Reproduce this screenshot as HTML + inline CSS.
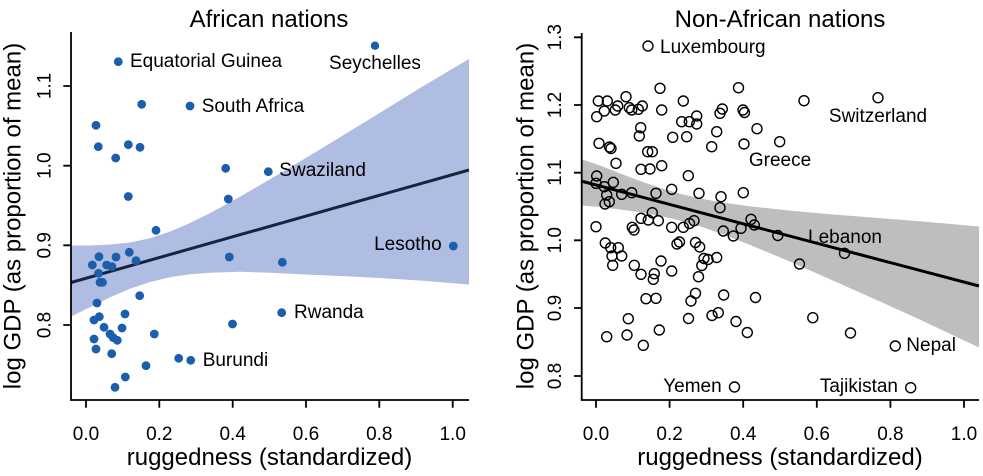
<!DOCTYPE html>
<html><head><meta charset="utf-8"><style>
html,body{margin:0;padding:0;background:#fff;}
svg{display:block;}
text{font-family:"Liberation Sans",Arial,Helvetica,sans-serif;fill:#000;}
</style></head><body>
<svg width="983" height="476" viewBox="0 0 983 476" xmlns="http://www.w3.org/2000/svg">
<!-- ===== LEFT PANEL ===== -->
<polygon fill="#B0BDE2" points="71,245.5 90,245.5 110,244.5 130,242.5 150,238.3 170,231.6 190,223 210,213.1 240,196.7 270,179.3 300,161.5 340,137.2 380,112.7 420,88 469,59 469,284.5 420,280.5 380,278 340,276 300,274.3 270,272.8 240,271.8 210,272.8 190,274.3 170,277.3 150,282 130,288.7 110,297.4 90,307.2 71,316.5"/>
<line x1="71" y1="282.5" x2="469" y2="170" stroke="#16243F" stroke-width="3"/>
<g fill="#1A5EAC">
<circle cx="118.3" cy="61.7" r="4.4"/><circle cx="141.7" cy="104.3" r="4.4"/><circle cx="190" cy="106" r="4.4"/>
<circle cx="96" cy="125.3" r="4.4"/><circle cx="98.3" cy="146.7" r="4.4"/><circle cx="128.3" cy="144.7" r="4.4"/>
<circle cx="140" cy="147.3" r="4.4"/><circle cx="115.7" cy="158" r="4.4"/><circle cx="225.7" cy="168.3" r="4.4"/>
<circle cx="228.3" cy="199" r="4.4"/><circle cx="128.3" cy="196.5" r="4.4"/><circle cx="156" cy="230.3" r="4.4"/>
<circle cx="92.3" cy="265" r="4.4"/><circle cx="99" cy="256.7" r="4.4"/><circle cx="106.7" cy="265" r="4.4"/>
<circle cx="112" cy="266.7" r="4.4"/><circle cx="116" cy="257" r="4.4"/><circle cx="129.3" cy="252.3" r="4.4"/>
<circle cx="136" cy="260.7" r="4.4"/><circle cx="98.5" cy="273.3" r="4.4"/><circle cx="100" cy="282.3" r="4.4"/>
<circle cx="102.5" cy="282.3" r="4.4"/><circle cx="229.3" cy="257" r="4.4"/><circle cx="139.7" cy="295.7" r="4.4"/>
<circle cx="97" cy="303" r="4.4"/><circle cx="94" cy="320" r="4.4"/><circle cx="99.3" cy="316.7" r="4.4"/>
<circle cx="125" cy="314" r="4.4"/><circle cx="104" cy="327.3" r="4.4"/><circle cx="110" cy="334" r="4.4"/>
<circle cx="113.3" cy="337.7" r="4.4"/><circle cx="117.3" cy="340.3" r="4.4"/><circle cx="122" cy="328" r="4.4"/>
<circle cx="94" cy="339" r="4.4"/><circle cx="96" cy="349" r="4.4"/><circle cx="111.7" cy="353.7" r="4.4"/>
<circle cx="154.3" cy="334" r="4.4"/><circle cx="232.5" cy="324" r="4.4"/><circle cx="178.7" cy="358.3" r="4.4"/>
<circle cx="190.7" cy="360.3" r="4.4"/><circle cx="146" cy="365.7" r="4.4"/><circle cx="125.3" cy="377" r="4.4"/>
<circle cx="115" cy="387.3" r="4.4"/><circle cx="282.3" cy="262.3" r="4.4"/><circle cx="268.3" cy="171.7" r="4.4"/>
<circle cx="375" cy="45.7" r="4.2"/><circle cx="453.3" cy="246" r="4.4"/><circle cx="281.7" cy="312.7" r="4.4"/>
</g>
<g font-size="19">
<text x="130" y="67">Equatorial Guinea</text>
<text x="201.7" y="112">South Africa</text>
<text x="375" y="69" text-anchor="middle">Seychelles</text>
<text x="279.3" y="176">Swaziland</text>
<text x="441.7" y="250" text-anchor="end">Lesotho</text>
<text x="294" y="318">Rwanda</text>
<text x="202.7" y="366">Burundi</text>
</g>
<!-- axes left -->
<g stroke="#000" stroke-width="1.8" fill="none">
<path d="M71,32 V400 H469"/>
<path d="M63.3,86 H71 M63.3,165.7 H71 M63.3,245.3 H71 M63.3,325 H71"/>
<path d="M86,400 V407.7 M159.3,400 V407.7 M232.7,400 V407.7 M306,400 V407.7 M379.3,400 V407.7 M452.7,400 V407.7"/>
</g>
<g font-size="19" text-anchor="middle">
<text x="86" y="440">0.0</text><text x="159.3" y="440">0.2</text><text x="232.7" y="440">0.4</text>
<text x="306" y="440">0.6</text><text x="379.3" y="440">0.8</text><text x="452.7" y="440">1.0</text>
<text transform="translate(50.5,86) rotate(-90)">1.1</text>
<text transform="translate(50.5,165.7) rotate(-90)">1.0</text>
<text transform="translate(50.5,245.3) rotate(-90)">0.9</text>
<text transform="translate(50.5,325) rotate(-90)">0.8</text>
</g>
<g font-size="24" text-anchor="middle">
<text x="269" y="27">African nations</text>
<text x="269.5" y="465">ruggedness (standardized)</text>
<text transform="translate(20.5,216) rotate(-90)">log GDP (as proportion of mean)</text>
</g>

<!-- ===== RIGHT PANEL ===== -->
<polygon fill="#BEBEBE" points="581,159 600,165.5 620,173.4 640,181 660,187.9 680,193.8 700,198.4 720,202.1 750,206.4 790,210.6 830,214.2 870,217.4 920,221.2 979,226.5 979,347.5 920,319.6 870,297 830,279.2 790,261.6 750,244.9 720,233.3 700,226.4 680,220.6 660,215.9 640,212.2 620,209.5 600,207 581,205.5"/>
<line x1="581" y1="181" x2="979" y2="286" stroke="#000" stroke-width="3"/>
<g fill="none" stroke="#000" stroke-width="1.4">
<circle cx="648" cy="46" r="5"/><circle cx="660" cy="88.3" r="5"/><circle cx="598.3" cy="101" r="5"/>
<circle cx="607.3" cy="101" r="5"/><circle cx="626" cy="96.7" r="5"/><circle cx="617.7" cy="106" r="5"/>
<circle cx="596.7" cy="116.7" r="5"/><circle cx="604.3" cy="111" r="5"/><circle cx="615.3" cy="110" r="5"/>
<circle cx="629.3" cy="107.7" r="5"/><circle cx="631.7" cy="110" r="5"/><circle cx="638.3" cy="109.3" r="5"/>
<circle cx="642.3" cy="106" r="5"/><circle cx="661.7" cy="110" r="5"/><circle cx="683.3" cy="101" r="5"/>
<circle cx="681.7" cy="121.7" r="5"/><circle cx="689.3" cy="121.7" r="5"/><circle cx="696.7" cy="116" r="5"/>
<circle cx="696.7" cy="124" r="5"/><circle cx="722.3" cy="109" r="5"/><circle cx="720" cy="113.3" r="5"/>
<circle cx="738.5" cy="87.7" r="5"/><circle cx="743" cy="110" r="5"/><circle cx="744.5" cy="112.5" r="5"/>
<circle cx="640.7" cy="127.7" r="5"/><circle cx="639.3" cy="136" r="5"/><circle cx="672.7" cy="137.3" r="5"/>
<circle cx="686.7" cy="136.7" r="5"/><circle cx="716.7" cy="131.7" r="5"/><circle cx="711.7" cy="146.7" r="5"/>
<circle cx="744" cy="144" r="5"/><circle cx="757" cy="128.7" r="5"/><circle cx="804" cy="100.7" r="5"/>
<circle cx="878" cy="97.7" r="5"/><circle cx="779.7" cy="141.7" r="5"/><circle cx="599" cy="143.3" r="5"/>
<circle cx="609.5" cy="147" r="5"/><circle cx="611" cy="148.5" r="5"/><circle cx="647.7" cy="151.7" r="5"/>
<circle cx="652.3" cy="151.7" r="5"/><circle cx="616" cy="163.3" r="5"/><circle cx="641" cy="169.3" r="5"/>
<circle cx="650" cy="169" r="5"/><circle cx="661.7" cy="165.7" r="5"/><circle cx="688.3" cy="175.7" r="5"/>
<circle cx="596.7" cy="176" r="5"/><circle cx="596" cy="183.3" r="5"/><circle cx="604.3" cy="186.7" r="5"/>
<circle cx="613.3" cy="182.3" r="5"/><circle cx="606.7" cy="195" r="5"/><circle cx="621.7" cy="194.3" r="5"/>
<circle cx="631.7" cy="192.7" r="5"/><circle cx="609.3" cy="201.7" r="5"/><circle cx="605" cy="204" r="5"/>
<circle cx="656" cy="193.3" r="5"/><circle cx="671.7" cy="189.3" r="5"/><circle cx="699" cy="193.3" r="5"/>
<circle cx="721" cy="196.7" r="5"/><circle cx="743.3" cy="192.7" r="5"/><circle cx="720" cy="207.7" r="5"/>
<circle cx="641" cy="218.3" r="5"/><circle cx="652.3" cy="212.7" r="5"/><circle cx="648.3" cy="220" r="5"/>
<circle cx="658.3" cy="220.7" r="5"/><circle cx="671.7" cy="227.3" r="5"/><circle cx="596" cy="226.7" r="5"/>
<circle cx="632.3" cy="227.3" r="5"/><circle cx="634" cy="230" r="5"/><circle cx="683.3" cy="227.3" r="5"/>
<circle cx="689.5" cy="223.5" r="5"/><circle cx="694" cy="220.7" r="5"/><circle cx="751" cy="219.3" r="5"/>
<circle cx="754.3" cy="225" r="5"/><circle cx="741" cy="228.3" r="5"/><circle cx="723.3" cy="231" r="5"/>
<circle cx="733.3" cy="236" r="5"/><circle cx="777.8" cy="235.5" r="5"/><circle cx="605.3" cy="243" r="5"/>
<circle cx="677" cy="244" r="5"/><circle cx="679.5" cy="242" r="5"/><circle cx="695.5" cy="242.5" r="5"/>
<circle cx="610.7" cy="247.7" r="5"/><circle cx="618.3" cy="247.7" r="5"/><circle cx="612" cy="256" r="5"/>
<circle cx="621.7" cy="256" r="5"/><circle cx="612.7" cy="265.3" r="5"/><circle cx="634.3" cy="265.3" r="5"/>
<circle cx="641" cy="274.3" r="5"/><circle cx="654.3" cy="273.7" r="5"/><circle cx="653.3" cy="279.3" r="5"/>
<circle cx="661" cy="261" r="5"/><circle cx="671.7" cy="271" r="5"/><circle cx="699.7" cy="247" r="5"/>
<circle cx="704" cy="258.5" r="5"/><circle cx="708" cy="259.5" r="5"/><circle cx="716.7" cy="257.5" r="5"/>
<circle cx="701.8" cy="265.5" r="5"/><circle cx="698.5" cy="276.7" r="5"/><circle cx="646" cy="298.7" r="5"/>
<circle cx="656" cy="298.3" r="5"/><circle cx="695.5" cy="293.3" r="5"/><circle cx="691" cy="301" r="5"/>
<circle cx="723.7" cy="295" r="5"/><circle cx="688.5" cy="318.5" r="5"/><circle cx="712" cy="315.5" r="5"/>
<circle cx="718.3" cy="312.7" r="5"/><circle cx="736" cy="321.5" r="5"/><circle cx="628.3" cy="318.7" r="5"/>
<circle cx="606.7" cy="336.7" r="5"/><circle cx="627" cy="335" r="5"/><circle cx="643.3" cy="345.3" r="5"/>
<circle cx="659.3" cy="330" r="5"/><circle cx="734.5" cy="387" r="5"/><circle cx="747.3" cy="332.5" r="5"/>
<circle cx="755.5" cy="297.5" r="5"/><circle cx="844.5" cy="253.3" r="5"/><circle cx="799.5" cy="264" r="5"/>
<circle cx="812.8" cy="317.7" r="5"/><circle cx="850.5" cy="333" r="5"/><circle cx="895.3" cy="346" r="5"/>
<circle cx="910.7" cy="387.7" r="5"/>
</g>
<g font-size="19">
<text x="660" y="53">Luxembourg</text>
<text x="878" y="122" text-anchor="middle">Switzerland</text>
<text x="780" y="166" text-anchor="middle">Greece</text>
<text x="808" y="243">Lebanon</text>
<text x="906.3" y="351">Nepal</text>
<text x="898" y="392" text-anchor="end">Tajikistan</text>
<text x="721.7" y="392" text-anchor="end">Yemen</text>
</g>
<!-- axes right -->
<g stroke="#000" stroke-width="1.8" fill="none">
<path d="M581.7,33 V400 H979"/>
<path d="M574,37.3 H581.7 M574,105 H581.7 M574,172.7 H581.7 M574,240.3 H581.7 M574,308 H581.7 M574,376 H581.7"/>
<path d="M596,400 V407.7 M669.6,400 V407.7 M743.2,400 V407.7 M816.8,400 V407.7 M890.4,400 V407.7 M964,400 V407.7"/>
</g>
<g font-size="19" text-anchor="middle">
<text x="596" y="440">0.0</text><text x="669.6" y="440">0.2</text><text x="743.2" y="440">0.4</text>
<text x="816.8" y="440">0.6</text><text x="890.4" y="440">0.8</text><text x="964" y="440">1.0</text>
<text transform="translate(561,37.3) rotate(-90)">1.3</text>
<text transform="translate(561,105) rotate(-90)">1.2</text>
<text transform="translate(561,172.7) rotate(-90)">1.1</text>
<text transform="translate(561,240.3) rotate(-90)">1.0</text>
<text transform="translate(561,308) rotate(-90)">0.9</text>
<text transform="translate(561,376) rotate(-90)">0.8</text>
</g>
<g font-size="24" text-anchor="middle">
<text x="780" y="27">Non-African nations</text>
<text x="780" y="465">ruggedness (standardized)</text>
<text transform="translate(533.5,216) rotate(-90)">log GDP (as proportion of mean)</text>
</g>
</svg>
</body></html>
